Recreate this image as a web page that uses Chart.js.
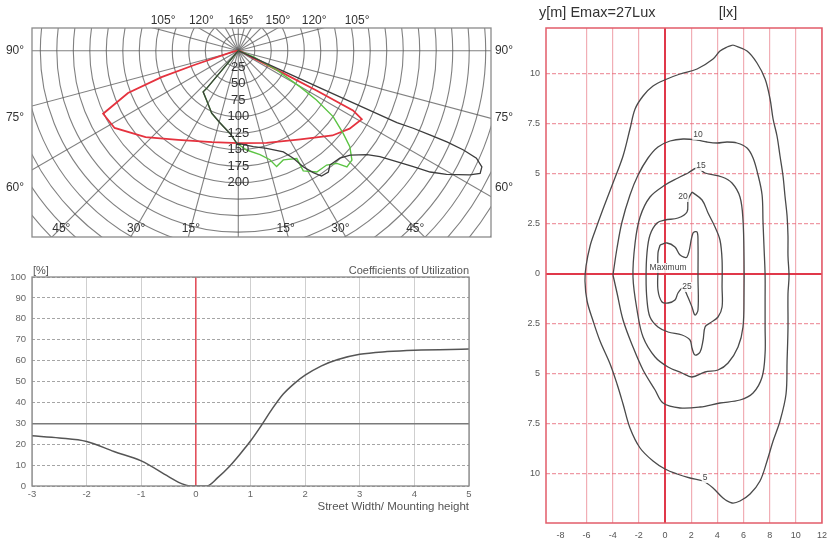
<!DOCTYPE html>
<html>
<head>
<meta charset="utf-8">
<script src="https://cdn.jsdelivr.net/npm/chart.js@4.4.1/dist/chart.umd.min.js"></script>
<style>
  body { margin: 0; background: #fff; width: 829px; height: 544px; position: relative; overflow: hidden; }
  canvas { position: absolute; }
  #polar { left: 0; top: 0; }
  #cu { left: 0; top: 250px; }
  #iso { left: 500px; top: 0; }
</style>
</head>
<body>
<canvas id="polar" width="520" height="250"></canvas>
<canvas id="cu" width="500" height="294"></canvas>
<canvas id="iso" width="329" height="544"></canvas>
<script>
// ---- polar diagram (gamma from nadir in degrees, intensity in cd/klm) ----
const redAngles = [-90, -80, -72, -71, -69, -65, -58, -47, -34, -16, 0, 17, 35, 48, 55, 61, 62.5, 63, 63.5, 64, 75, 90];
const redValues = [0, 8, 69, 123, 179, 226, 221, 192, 163, 144, 140, 146, 164, 192, 206, 214, 196, 133, 76, 25, 5, 0];

const greenAngles = [-42, -40, -40.5, -32.7, -23, -14.1, -5.7, -1, 4.8, 11.8, 16.2, 18.3, 22.4, 28.5, 28.4, 32.9, 37.7, 41.2, 43.1, 46.1, 49.3, 51.8, 55.2, 57.8, 59.7, 63.3, 68.2, 90];
const greenValues = [0, 74, 82, 89, 103, 113, 126, 140, 151, 161, 172, 185, 179, 186, 207, 219, 219, 227, 241, 239, 223, 202, 175, 140, 108, 65, 25, 0];

const blackAngles = [-42, -40, -40.5, -32.7, -23, -14.1, -5.7, -1, 8.9, 16.2, 24, 27.1, 29.3, 31.6, 33.6, 36.6, 38.7, 43.4, 47, 51.1, 53.2, 55, 56.5, 57.7, 59.3, 61.8, 63.1, 64.5, 65.7, 66.2, 66.4, 66.3, 66.1, 65.6, 65.5, 66];
const blackValues = [0, 74, 82, 89, 103, 113, 126, 140, 147, 154, 168, 183, 202, 217, 228, 229, 222, 224, 232, 251, 268, 293, 318, 344, 367, 398, 411, 409, 396, 373, 345, 317, 290, 264, 136, 0];

const ringValues = [25, 50, 75, 100, 125, 150, 175, 200, 225, 250, 275, 300, 325, 350, 375, 400, 425, 450, 475, 500];
const ringLabels = [25, 50, 75, 100, 125, 150, 175, 200];
const spokeAngles = [0, 15, 30, 45, 60, 75, 90, 105, 120, 135, 150, 165, 180, 195, 210, 225, 240, 255, 270, 285, 300, 315, 330, 345];
const bottomAngleLabels = [-45, -30, -15, 15, 30, 45];
const sideLabels = ['90°', '75°', '60°'];
const sideLabelY = [0, -102, -208];
const topLabels = ['105°', '120°', '165°', '150°', '120°', '105°'];
const topLabelX = [-114, -56, 4, 60, 115, 180];

// ---- coefficients of utilization ----
const cuX = [-3, -2.5, -2, -1.5, -1, -0.5, -0.25, -0.1, 0.2, 0.4, 0.6, 0.8, 1, 1.2, 1.4, 1.6, 1.8, 2, 2.3, 2.6, 3, 3.5, 4, 5];
const cuY = [24, 23, 21.3, 16.5, 12, 4.5, 1, 0, 0, 4, 9, 15, 21.5, 29, 37, 44, 49, 53, 57.5, 60.5, 63, 64.3, 65, 65.5];
const cuXTicks = [-3, -2, -1, 0, 1, 2, 3, 4, 5];
const cuYTicks = [0, 10, 20, 30, 40, 50, 60, 70, 80, 90, 100];

// ---- isolux diagram (metres), lines of 5, 10, 15, 20, 25 lx ----
const x5 = [5.2, 6.27, 7.03, 7.65, 8.03, 8.26, 8.56, 8.79, 9.02, 9.17, 9.33, 9.4, 9.4, 9.48, 9.4, 9.4, 9.33, 9.25, 8.79, 8.26, 7.8, 7.26, 6.5, 5.73, 5.12, 4.43, 3.67, 2.9, 1.91, 0.92, 0, -0.92, -1.91, -2.68, -3.21, -3.67, -4.2, -4.97, -5.5, -5.96, -6.12, -6.04, -5.73, -5.35, -4.74, -3.98, -3.21, -2.68, -2.29, -1.68, -0.92, 0.15, 1.15, 2.45, 3.67, 4.2, 4.74, 5.2];
const y5 = [11.45, 11.15, 10.55, 9.75, 8.75, 7.75, 6.9, 5.9, 4.9, 3.9, 2.9, 1.9, 0.9, -0.1, -1.0, -2.7, -4.35, -6.0, -7.35, -8.35, -9.35, -10.35, -11.0, -11.35, -11.45, -11.2, -10.7, -10.35, -10.2, -10.0, -9.75, -9.35, -8.7, -7.7, -6.5, -5.5, -4.5, -3.35, -2.35, -1.35, -0.35, 0.4, 1.4, 2.15, 3.25, 4.55, 5.9, 7.25, 8.25, 8.9, 9.4, 9.75, 10.0, 10.25, 10.75, 11.15, 11.35, 11.45];
const x10 = [-3.98, -3.67, -3.29, -2.68, -2.06, -1.3, -0.54, 0.38, 1.38, 2.45, 3.21, 3.98, 4.74, 5.5, 6.27, 6.73, 7.11, 7.42, 7.49, 7.57, 7.65, 7.65, 7.65, 7.65, 7.42, 6.73, 5.73, 4.2, 2.68, 1.15, -0.15, -0.76, -1.68, -2.45, -3.21, -3.67, -3.98];
const y10 = [-0.05, 1.3, 2.6, 3.95, 4.95, 5.8, 6.35, 6.65, 6.75, 6.7, 6.6, 6.55, 6.6, 6.55, 6.3, 5.8, 4.95, 3.95, 2.6, 1.3, -0.05, -1.3, -2.65, -3.95, -5.15, -5.95, -6.3, -6.45, -6.65, -6.7, -6.45, -5.8, -4.8, -3.65, -2.3, -0.95, -0.05];
const x15 = [1.76, 2.45, 3.06, 4.36, 5.12, 5.73, 5.96, 6.04, 6.04, 5.96, 5.58, 4.82, 4.05, 3.06, 2.06, 1.3, 0.23, -0.76, -1.68, -2.14, -2.45, -2.29, -1.91, -1.15, 0, 0.99, 1.76];
const y15 = [5.05, 5.3, 5.05, 4.85, 4.55, 3.85, 2.7, 0.7, -0.95, -2.65, -3.65, -4.45, -4.8, -4.9, -5.15, -4.95, -4.65, -4.15, -3.15, -1.8, -0.15, 1.55, 2.85, 3.85, 4.45, 4.8, 5.05];
const x20 = [2.06, 2.83, 3.29, 3.82, 4.2, 4.36, 4.36, 4.36, 4.05, 3.44, 3.06, 2.91, 2.68, 2.29, 2.06, 1.91, 1.3, 0.23, -0.54, -1.15, -1.38, -1.45, -1.38, -1.15, -0.61, 0, 0.99, 1.68, 1.76, 2.06];
const y20 = [4.1, 3.7, 3.05, 2.35, 1.7, 0.7, -0.65, -1.65, -2.15, -2.45, -2.65, -3.3, -3.9, -4.05, -3.7, -3.3, -3.05, -2.9, -2.65, -2.15, -1.3, -0.15, 1.05, 1.95, 2.55, 2.7, 2.8, 3.1, 3.7, 4.1];
const x25 = [-0.38, 0.15, 0.76, 1.15, 1.68, 2.14, 2.45, 2.52, 2.52, 2.52, 2.29, 2.06, 1.68, 1.38, 0.99, 0.76, 0.23, -0.23, -0.54, -0.54, -0.54, -0.38];
const y25 = [1.45, 1.55, 1.35, 0.95, 0.85, 2.05, 2.1, 1.55, -0.15, -1.8, -2.05, -1.65, -1.05, -0.7, -0.95, -1.3, -1.45, -1.4, -0.8, 0.2, 1.05, 1.45];
const isoXTicks = [-8, -6, -4, -2, 0, 2, 4, 6, 8, 10, 12];
const isoYTicks = [-10, -7.5, -5, -2.5, 0, 2.5, 5, 7.5, 10];
const contourLabels = ['5', '10', '15', '20', '25', 'Maximum'];
const contourLabelX = [3.06, 2.52, 2.75, 1.38, 1.68, 0.23];
const contourLabelY = [-10.2, 6.95, 5.4, 3.85, -0.65, 0.3];

const FONT = '"Liberation Sans", Arial, sans-serif';

function polarPoints(angles, values) {
    return angles.map((a, i) => {
        const t = a * Math.PI / 180;
        return { x: values[i] * Math.sin(t), y: -values[i] * Math.cos(t) };
    });
}

function xyPoints(xs, ys) {
    return xs.map((v, i) => ({ x: v, y: ys[i] }));
}

// POLAR CHART
const polarPlugin = {
    id: "polarGrid",
    beforeDatasetsDraw(chart) {
        const { ctx, chartArea: a, scales: { x, y } } = chart;
        const cx = x.getPixelForValue(0), cy = y.getPixelForValue(0);
        const k = x.getPixelForValue(100) - cx;
        ctx.save();
        ctx.beginPath();
        ctx.rect(a.left, a.top, a.width, a.height);
        ctx.clip();
        ctx.strokeStyle = "rgba(85,85,85,0.75)";
        ctx.lineWidth = 1.1;
        ringValues.forEach(r => {
            ctx.beginPath();
            ctx.arc(cx, cy, r * k / 100, 0, Math.PI * 2);
            ctx.stroke();
        });
        spokeAngles.forEach(g => {
            const t = g * Math.PI / 180;
            ctx.beginPath();
            ctx.moveTo(cx, cy);
            ctx.lineTo(cx + Math.sin(t) * 1000, cy + Math.cos(t) * 1000);
            ctx.stroke();
        });
        ctx.restore();
    },
    afterDraw(chart) {
        const { ctx, chartArea: a, scales: { x, y } } = chart;
        const cx = x.getPixelForValue(0), cy = y.getPixelForValue(0);
        const k = x.getPixelForValue(100) - cx;
        ctx.save();
        ctx.strokeStyle = "#8a8a8a";
        ctx.lineWidth = 1.3;
        ctx.strokeRect(a.left, a.top, a.width, a.height);
        ctx.fillStyle = "#333";
        ctx.font = "13px " + FONT;
        ctx.textAlign = "center";
        ctx.textBaseline = "middle";
        ringLabels.forEach(r => ctx.fillText(String(r), cx, cy + r * k / 100));
        ctx.font = "12px " + FONT;
        bottomAngleLabels.forEach(g => {
            const dx = -y.min * Math.tan(Math.abs(g) * Math.PI / 180) * Math.sign(g) * 0.95;
            ctx.fillText(Math.abs(g) + "°", x.getPixelForValue(dx), a.bottom - 8);
        });
        topLabels.forEach((t, i) => ctx.fillText(t, x.getPixelForValue(topLabelX[i]), a.top - 7));
        sideLabels.forEach((t, i) => {
            const py = y.getPixelForValue(sideLabelY[i]);
            ctx.fillText(t, a.left - 17, py);
            ctx.fillText(t, a.right + 13, py);
        });
        ctx.restore();
    }
};

new Chart(document.getElementById("polar").getContext("2d"), {
    type: "scatter",
    data: {
        datasets: [
            { data: polarPoints(blackAngles, blackValues), borderColor: "#3c3c3c", borderWidth: 1.3 },
            { data: polarPoints(greenAngles, greenValues), borderColor: "#5cc444", borderWidth: 1.4 },
            { data: polarPoints(redAngles, redValues), borderColor: "#e5323e", borderWidth: 1.8 }
        ].map(d => Object.assign(d, { showLine: true, pointRadius: 0, fill: false, tension: 0 }))
    },
    options: {
        responsive: false,
        animation: false,
        layout: { padding: { left: 32, top: 28, right: 29, bottom: 13 } },
        scales: {
            x: { type: "linear", min: -312.6, max: 383, display: false },
            y: { type: "linear", min: -282.3, max: 34.4, display: false }
        },
        plugins: { legend: { display: false }, tooltip: { enabled: false } }
    },
    plugins: [polarPlugin]
});

// CU CHART
const cuPlugin = {
    id: "cuText",
    afterDraw(chart) {
        const { ctx, chartArea: a, scales: { x, y } } = chart;
        ctx.save();
        ctx.strokeStyle = "#888";
        ctx.lineWidth = 1.3;
        ctx.strokeRect(a.left, a.top, a.width, a.height);
        ctx.fillStyle = "#666";
        ctx.font = "9.5px " + FONT;
        ctx.textAlign = "center";
        ctx.textBaseline = "top";
        cuXTicks.forEach(v => ctx.fillText(String(v), x.getPixelForValue(v), a.bottom + 4));
        ctx.textAlign = "right";
        ctx.textBaseline = "middle";
        cuYTicks.forEach(v => ctx.fillText(String(v), a.left - 6, y.getPixelForValue(v)));
        ctx.fillStyle = "#555";
        ctx.font = "11px " + FONT;
        ctx.textAlign = "left";
        ctx.textBaseline = "bottom";
        ctx.fillText("[%]", a.left + 1, a.top - 1);
        ctx.textAlign = "right";
        ctx.fillText("Coefficients of Utilization", a.right, a.top - 1);
        ctx.font = "11.5px " + FONT;
        ctx.textBaseline = "top";
        ctx.fillText("Street Width/ Mounting height", a.right, a.bottom + 15);
        ctx.restore();
    }
};

new Chart(document.getElementById("cu").getContext("2d"), {
    type: "scatter",
    data: {
        datasets: [{
            data: xyPoints(cuX, cuY),
            showLine: true,
            pointRadius: 0,
            borderColor: "#555",
            borderWidth: 1.5,
            cubicInterpolationMode: "monotone"
        }]
    },
    options: {
        responsive: false,
        animation: false,
        layout: { padding: { left: 32, top: 27, right: 31, bottom: 58 } },
        scales: {
            x: {
                type: "linear", min: -3, max: 5,
                afterBuildTicks: s => { s.ticks = cuXTicks.map(v => ({ value: v })); },
                ticks: { display: false },
                border: { display: false },
                grid: {
                    drawTicks: false,
                    color: c => c.tick.value === 0 ? "#e2505c" : "#cfcfcf",
                    lineWidth: c => c.tick.value === 0 ? 1.6 : 1
                }
            },
            y: {
                type: "linear", min: 0, max: 100,
                afterBuildTicks: s => { s.ticks = cuYTicks.map(v => ({ value: v })); },
                ticks: { display: false },
                border: { display: false, dash: c => c.tick.value === 30 ? [] : [3, 2] },
                grid: {
                    drawTicks: false,
                    color: c => c.tick.value === 30 ? "#7a7a7a" : "#a5a5a5",
                    lineWidth: c => c.tick.value === 30 ? 1.4 : 1
                }
            }
        },
        plugins: { legend: { display: false }, tooltip: { enabled: false } }
    },
    plugins: [cuPlugin]
});

// ISOLUX CHART
const isoPlugin = {
    id: "isoText",
    afterDraw(chart) {
        const { ctx, chartArea: a, scales: { x, y } } = chart;
        ctx.save();
        ctx.strokeStyle = "#e25c6a";
        ctx.lineWidth = 1.5;
        ctx.strokeRect(a.left, a.top, a.width, a.height);
        ctx.fillStyle = "#555";
        ctx.font = "9px " + FONT;
        ctx.textAlign = "center";
        ctx.textBaseline = "top";
        isoXTicks.forEach(v => ctx.fillText(String(v), x.getPixelForValue(v), a.bottom + 8));
        ctx.textAlign = "right";
        ctx.textBaseline = "middle";
        isoYTicks.forEach(v => ctx.fillText(String(Math.abs(v)), a.left - 6, y.getPixelForValue(v)));
        // contour labels
        ctx.font = "8.5px " + FONT;
        ctx.textAlign = "center";
        contourLabels.forEach((t, i) => {
            const px = x.getPixelForValue(contourLabelX[i]);
            const py = y.getPixelForValue(contourLabelY[i]);
            const w = ctx.measureText(t).width;
            ctx.fillStyle = "rgba(255,255,255,0.85)";
            ctx.fillRect(px - w / 2 - 1, py - 5, w + 2, 10);
            ctx.fillStyle = "#444";
            ctx.fillText(t, px, py);
        });
        // header
        ctx.fillStyle = "#333";
        ctx.font = "14.5px " + FONT;
        ctx.textAlign = "left";
        ctx.fillText("y[m] Emax=27Lux", a.left - 7, a.top - 15);
        ctx.fillText("[lx]", x.getPixelForValue(4.1), a.top - 15);
        ctx.restore();
    }
};

const contourStyle = { showLine: true, pointRadius: 0, borderColor: "#4a4a4a", borderWidth: 1.3, tension: 0.35, fill: false };

new Chart(document.getElementById("iso").getContext("2d"), {
    type: "scatter",
    data: {
        datasets: [
            Object.assign({ data: xyPoints(x5, y5) }, contourStyle),
            Object.assign({ data: xyPoints(x10, y10) }, contourStyle),
            Object.assign({ data: xyPoints(x15, y15) }, contourStyle),
            Object.assign({ data: xyPoints(x20, y20) }, contourStyle),
            Object.assign({ data: xyPoints(x25, y25) }, contourStyle)
        ]
    },
    options: {
        responsive: false,
        animation: false,
        layout: { padding: { left: 46, top: 28, right: 7, bottom: 21 } },
        scales: {
            x: {
                type: "linear", min: -9.1, max: 12,
                afterBuildTicks: s => { s.ticks = isoXTicks.map(v => ({ value: v })); },
                ticks: { display: false },
                border: { display: false },
                grid: {
                    drawTicks: false,
                    color: c => c.tick.value === 0 ? "#e0384a" : (c.tick.value === -8 ? "rgba(0,0,0,0)" : "rgba(232,120,132,0.6)"),
                    lineWidth: c => c.tick.value === 0 ? 2 : 1.2
                }
            },
            y: {
                type: "linear", min: -12.45, max: 12.3,
                afterBuildTicks: s => { s.ticks = isoYTicks.map(v => ({ value: v })); },
                ticks: { display: false },
                border: { display: false, dash: c => c.tick.value === 0 ? [] : [4, 2] },
                grid: {
                    drawTicks: false,
                    color: c => c.tick.value === 0 ? "#e0384a" : "rgba(232,110,125,0.7)",
                    lineWidth: c => c.tick.value === 0 ? 2 : 1.2
                }
            }
        },
        plugins: { legend: { display: false }, tooltip: { enabled: false } }
    },
    plugins: [isoPlugin]
});
</script>
</body>
</html>
